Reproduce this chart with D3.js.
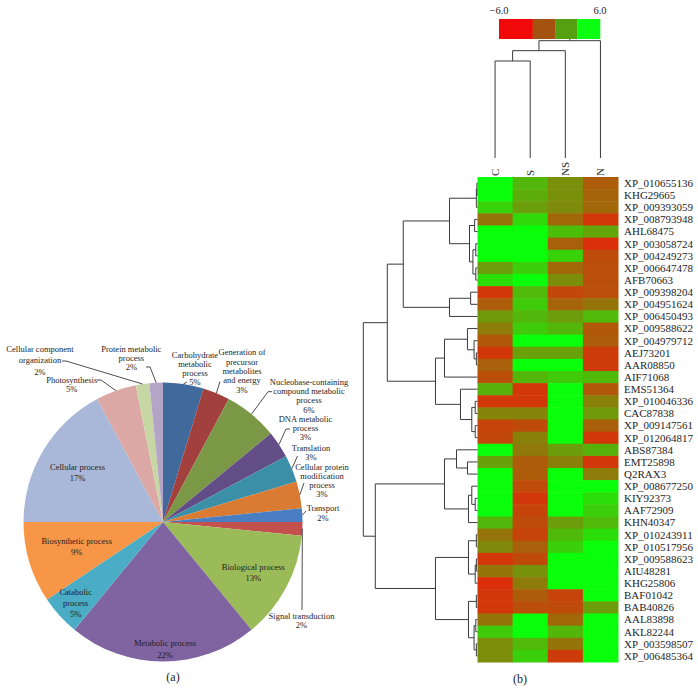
<!DOCTYPE html>
<html><head><meta charset="utf-8">
<script src="https://cdn.jsdelivr.net/npm/d3@7"></script>
<style>
html,body{margin:0;padding:0;background:#fff;}
svg{display:block;font-family:"Liberation Serif","Times New Roman",serif;}
</style>
</head><body>
<svg id="chart" width="698" height="698"></svg>
<script>
// ---------------- (a) GO pie data ----------------
const goTerms = ["Carbohydrate metabolic process","Generation of precursor metabolites and energy",
  "Nucleobase-containing compound metabolic process","DNA metabolic process","Translation",
  "Cellular protein modification process","Transport","Signal transduction","Biological process",
  "Metabolic process","Catabolic process","Biosynthetic process","Cellular process","Photosynthesis",
  "Cellular component organization","Protein metabolic process"];
const goLabelLines = [["Carbohydrate","metabolic","process"],["Generation of","precursor","metabolites","and energy"],
  ["Nucleobase-containing","compound metabolic","process"],["DNA metabolic","process"],["Translation"],
  ["Cellular protein","modification","process"],["Transport"],["Signal transduction"],["Biological process"],
  ["Metabolic process"],["Catabolic","process"],["Biosynthetic process"],["Cellular process"],["Photosynthesis"],
  ["Cellular component","organization"],["Protein metabolic","process"]];
const goCounts = [3,2,4,2,2,2,1,1,8,14,3,6,11,3,1,1];
const goColors = ["#40699c","#a2403e","#7a9846","#634d87","#3b8fa7","#d97b32","#4a7ec2","#c4504d",
  "#9bbb59","#8064a2","#4bacc6","#f79646","#a9b8d8","#dba8a6","#c6d7a4","#b4a5c8"];

// ---------------- (b) heatmap data ----------------
const rowNames = ["XP_010655136","KHG29665","XP_009393059","XP_008793948","AHL68475","XP_003058724",
  "XP_004249273","XP_006647478","AFB70663","XP_009398204","XP_004951624","XP_006450493","XP_009588622",
  "XP_004979712","AEJ73201","AAR08850","AIF71068","EMS51364","XP_010046336","CAC87838","XP_009147561",
  "XP_012064817","ABS87384","EMT25898","Q2RAX3","XP_008677250","KIY92373","AAF72909","KHN40347",
  "XP_010243911","XP_010517956","XP_009588623","AIU48281","KHG25806","BAF01042","BAB40826","AAL83898",
  "AKL82244","XP_003598507","XP_006485364"];
const colNames = ["C","S","NS","N"];
const valC  = [6,6,3.8,-0.8,6,6,6,1.2,4.4,-3.8, -2.0,1.0,-0.4,-2.2,-3.8,-1.8,-2.6,2.2,-3.8,0,
               -3.2,-3.0,6,1.4,6,6,6,6,2.4,-0.8, 0.2,-3.8,-0.8,-4.2,-3.8,-3.8,-0.8,3.4,0.4,0.4];
const valS  = [2.4,2.0,1.2,4.2,6,6,6,3.6,6,2.6, 3.4,2.4,3.4,6,1.4,6,2.4,-3.8,-3.8,0,
               -2.8,-0.2,-0.6,-2.0,-2.0,-2.8,-3.8,-3.2,-2.8,-3.2, -1.8,-2.8,0.6,-0.4,-2.0,-2.6,6,6,2.6,3.6];
const valNS = [0.5,0.5,0.3,-1.4,2.8,-1.8,3.8,-1.4,0.4,-3.0, -1.6,1.2,2.4,6,1.4,6,3.4,6,6,6,
               6,6,1.2,-0.2,6,6,6,6,1.2,2.6, 3.6,6,6,6,-3.2,-2.8,-1.4,2.4,-0.8,-3.6];
const valN  = [-2.0,-1.6,-1.4,-3.8,1.6,-4.2,-2.8,-2.6,-2.6,-2.6, -0.8,2.6,-2.2,-2.0,-3.6,-3.6,2.6,-2.2,-0.2,1.0,
               -1.8,-3.8,2.2,-3.8,-0.4,6,4.4,3.6,2.6,4.4, 6,6,6,6,6,1.2,6,6,6,6];
const colValues = [valC, valS, valNS, valN];
const legendTicks = ["\u22126.0","6.0"];
const legendBreaks = [-6,-2,0.7,3.3,6];
const legendColors = ["#f20a0a","#a4520f","#55a010","#0aff12"];

// row dendrogram: [height, childA, childB]; leaves = row numbers (1-based)
const rowTree = [1.0,
  [0.79,
    [0.65,
      [0.245, [0.01,[0.005,1,2],3], [0.07,[0.025,4,5],[0.04,[0.015,6,7],[0.015,8,9]]]],
      [0.245, [0.06,10,11], 12]],
    [0.368,
      [0.289, [0.088,13,[0.03,14,[0.01,15,16]]], 17],
      [0.149, 18, [0.05,[0.02,19,20],[0.02,21,22]]]]],
  [0.895,
    [0.289,
      [0.184, 23, [0.088,24,25]],
      [0.079, [0.05,26,[0.02,27,28]], 29]],
    [0.368,
      [0.079, [0.01,30,31], [0.02,[0.01,32,33],34]],
      [0.079, [0.01,35,36], [0.03,[0.015,37,38],[0.01,39,40]]]]]];
// column dendrogram
const colTree = [1.0, [0.915, [0.827, "C", "S"], "NS"], "N"];

// ================= drawing =================
const svg = d3.select("#chart");
const textColor = "#1e1e1e";

// ---------- pie ----------
const cx = 163, cy = 522, R = 139.5;
const total = d3.sum(goCounts);
const pie = d3.pie().sort(null).value(d => d.count).startAngle(0).endAngle(2*Math.PI);
const arcs = pie(goTerms.map((t,i) => ({term:t, count:goCounts[i], i})));
const arc = d3.arc().innerRadius(0).outerRadius(R);
const gPie = svg.append("g").attr("transform", `translate(${cx},${cy})`);
gPie.selectAll("path.slice").data(arcs).join("path")
  .attr("class","slice").attr("d", arc).attr("fill", d => goColors[d.data.i]);

// label layout (x center, block centre y, line step, leader start [x,y] or null) in page coords
const labelLayout = [
  {x:195, yc:369, dy:9.0, lead:[187,382]},
  {x:242, yc:371.1, dy:9.4, lead:[220,381.5]},
  {x:309, yc:396, dy:9.2, lead:[272,391.7]},
  {x:305.5, yc:428.5, dy:9.0, lead:[290,429]},
  {x:311, yc:452.2, dy:9.0, lead:[297.5,456]},
  {x:322, yc:481, dy:9.0, lead:[304,483]},
  {x:323, yc:513.3, dy:10, lead:[306,511]},
  {x:301.5, yc:620.5, dy:9.2, lead:[302,610]},
  {x:253.3, yc:572.5, dy:11.6, lead:null},
  {x:165, yc:649, dy:12, lead:null},
  {x:75.7, yc:603.3, dy:11, lead:null},
  {x:76.7, yc:546.5, dy:11.6, lead:null},
  {x:77.5, yc:472.6, dy:10.7, lead:null},
  {x:71.7, yc:384.5, dy:9.2, lead:[97,380]},
  {x:40, yc:360.4, dy:11.4, lead:[62,361]},
  {x:131.3, yc:358.4, dy:9.0, lead:[146,367]}
];
const gLab = svg.append("g").attr("font-size", 8.5).attr("fill", textColor);
arcs.forEach((a, k) => {
  const L = labelLayout[k];
  const lines = goLabelLines[k].concat([Math.round(a.data.count/total*100) + "%"]);
  const y0 = L.yc - (lines.length - 1) * L.dy / 2;
  const t = gLab.append("text").attr("text-anchor","middle");
  lines.forEach((ln, j) => {
    t.append("tspan").attr("x", L.x).attr("y", y0 + j*L.dy).attr("dy","0.33em").text(ln);
  });
  if (L.lead) {
    const mid = (a.startAngle + a.endAngle)/2;
    const ex = cx + R*Math.sin(mid), ey = cy - R*Math.cos(mid);
    const sx = L.lead[0], sy = L.lead[1];
    const dir = ex < sx ? -1 : 1;
    const pts = (Math.abs(ex-sx) > 6) ? [[sx,sy],[sx+dir*4,sy],[ex,ey]] : [[sx,sy],[ex,ey]];
    svg.append("path").attr("d", d3.line()(pts)).attr("fill","none")
      .attr("stroke","#3a3a3a").attr("stroke-width",0.9);
  }
});
svg.append("text").attr("x",173).attr("y",681).attr("text-anchor","middle")
  .attr("font-size",12).attr("fill",textColor).text("(a)");

// ---------- heatmap ----------
const x = d3.scaleBand().domain(colNames).range([477.5, 618]);
const y = d3.scaleBand().domain(rowNames).range([177, 662]);
const color = d3.scaleLinear().domain([-6, 6]).range(["#ff0a0a", "#0aff0a"]).interpolate(d3.interpolateRgb);
const cells = [];
rowNames.forEach((r, i) => colNames.forEach((c, j) => cells.push({r, c, v: colValues[j][i]})));
svg.append("g").selectAll("rect").data(cells).join("rect")
  .attr("x", d => x(d.c)).attr("y", d => y(d.r))
  .attr("width", x.bandwidth()+0.5).attr("height", y.bandwidth()+0.5)
  .attr("fill", d => color(d.v));

// row labels
svg.append("g").attr("font-size", 11).attr("fill", textColor)
  .selectAll("text").data(rowNames).join("text")
  .attr("x", 624).attr("y", d => y(d) + y.bandwidth()/2).attr("dy","0.35em").text(d => d);

// column labels
svg.append("g").attr("font-size", 11).attr("fill", textColor)
  .selectAll("text").data(colNames).join("text")
  .attr("transform", d => `translate(${x(d)+x.bandwidth()/2},176) rotate(-90)`)
  .attr("dy","0.35em").text(d => d);

// row dendrogram
const hx = d3.scaleLinear().domain([0, 1]).range([477.5, 363.3]);
const kids = d => Array.isArray(d) ? d.slice(1) : null;
const rroot = d3.hierarchy(rowTree, kids);
rroot.eachAfter(n => {
  if (!n.children) { const nm = rowNames[n.data-1]; n.py = y(nm) + y.bandwidth()/2; n.px = hx(0); }
  else { n.py = (n.children[0].py + n.children[n.children.length-1].py)/2; n.px = hx(n.data[0]); }
});
const gDen = svg.append("g").attr("fill","none").attr("stroke","#3a3a3a").attr("stroke-width",1);
rroot.each(n => {
  if (!n.children) return;
  const [a, b] = n.children;
  gDen.append("path").attr("d", `M${a.px},${a.py}H${n.px}V${b.py}H${b.px}`);
});

// column dendrogram
const hy = d3.scaleLinear().domain([0, 1]).range([158, 40.7]);
const croot = d3.hierarchy(colTree, kids);
croot.eachAfter(n => {
  if (!n.children) { n.px = x(n.data) + x.bandwidth()/2; n.py = hy(0); }
  else { n.px = (n.children[0].px + n.children[n.children.length-1].px)/2; n.py = hy(n.data[0]); }
});
croot.each(n => {
  if (!n.children) return;
  const [a, b] = n.children;
  gDen.append("path").attr("d", `M${a.px},${a.py}V${n.py}H${b.px}V${b.py}`);
});
gDen.append("path").attr("d", `M${croot.px},${croot.py}V${hy(1)-2}`);

// colour legend
const lx = d3.scaleLinear().domain([-6, 6]).range([499, 600]);
svg.append("g").selectAll("rect").data(legendColors).join("rect")
  .attr("x", (d,i) => lx(legendBreaks[i])).attr("y", 19)
  .attr("width", (d,i) => lx(legendBreaks[i+1]) - lx(legendBreaks[i]) + 0.3).attr("height", 20)
  .attr("fill", d => d);
svg.append("g").attr("font-size", 10.5).attr("fill", textColor)
  .selectAll("text").data(legendTicks).join("text")
  .attr("x", (d,i) => lx(i === 0 ? -6 : 6)).attr("y", 14).attr("text-anchor","middle").text(d => d);

svg.append("text").attr("x",520).attr("y",683).attr("text-anchor","middle")
  .attr("font-size",12).attr("fill",textColor).text("(b)");
</script>
</body></html>
